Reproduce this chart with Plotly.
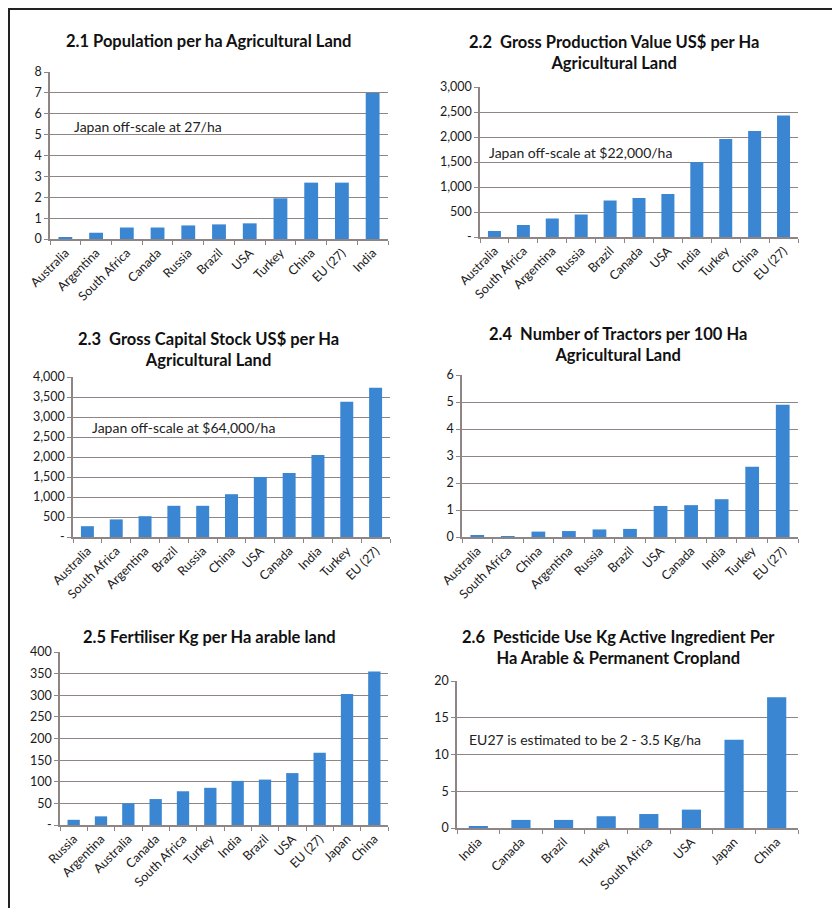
import plotly.graph_objects as go

W, H = 840, 908

# ---------------- data ----------------
p1_title = "2.1 Population per ha Agricultural Land"
p1_cats = ["Australia", "Argentina", "South Africa", "Canada", "Russia", "Brazil",
           "USA", "Turkey", "China", "EU (27)", "India"]
p1_vals = [0.05, 0.3, 0.55, 0.55, 0.65, 0.7, 0.75, 1.95, 2.7, 2.7, 7.0]
p1_ticks = [0, 1, 2, 3, 4, 5, 6, 7, 8]
p1_ticktext = ["0", "1", "2", "3", "4", "5", "6", "7", "8"]
p1_note = "Japan off-scale at 27/ha"

p2_title = "2.2  Gross Production Value US$ per Ha<br>Agricultural Land"
p2_cats = ["Australia", "South Africa", "Argentina", "Russia", "Brazil", "Canada",
           "USA", "India", "Turkey", "China", "EU (27)"]
p2_vals = [120, 240, 370, 450, 730, 780, 860, 1500, 1960, 2120, 2430]
p2_ticks = [0, 500, 1000, 1500, 2000, 2500, 3000]
p2_ticktext = ["-", "500", "1,000", "1,500", "2,000", "2,500", "3,000"]
p2_note = "Japan off-scale at $22,000/ha"

p3_title = "2.3  Gross Capital Stock US$ per Ha<br>Agricultural Land"
p3_cats = ["Australia", "South Africa", "Argentina", "Brazil", "Russia", "China",
           "USA", "Canada", "India", "Turkey", "EU (27)"]
p3_vals = [270, 440, 520, 780, 780, 1070, 1500, 1600, 2050, 3380, 3730]
p3_ticks = [0, 500, 1000, 1500, 2000, 2500, 3000, 3500, 4000]
p3_ticktext = ["-", "500", "1,000", "1,500", "2,000", "2,500", "3,000", "3,500", "4,000"]
p3_note = "Japan off-scale at $64,000/ha"

p4_title = "2.4  Number of Tractors per 100 Ha<br>Agricultural Land"
p4_cats = ["Australia", "South Africa", "China", "Argentina", "Russia", "Brazil",
           "USA", "Canada", "India", "Turkey", "EU (27)"]
p4_vals = [0.05, 0.03, 0.2, 0.22, 0.28, 0.3, 1.15, 1.18, 1.4, 2.6, 4.9]
p4_ticks = [0, 1, 2, 3, 4, 5, 6]
p4_ticktext = ["0", "1", "2", "3", "4", "5", "6"]

p5_title = "2.5 Fertiliser Kg per Ha arable land"
p5_cats = ["Russia", "Argentina", "Australia", "Canada", "South Africa", "Turkey",
           "India", "Brazil", "USA", "EU (27)", "Japan", "China"]
p5_vals = [12, 20, 50, 60, 78, 86, 102, 105, 120, 167, 303, 355]
p5_ticks = [0, 50, 100, 150, 200, 250, 300, 350, 400]
p5_ticktext = ["-", "50", "100", "150", "200", "250", "300", "350", "400"]

p6_title = "2.6  Pesticide Use Kg Active Ingredient Per<br>Ha Arable & Permanent Cropland"
p6_cats = ["India", "Canada", "Brazil", "Turkey", "South Africa", "USA", "Japan", "China"]
p6_vals = [0.2, 1.1, 1.1, 1.6, 1.9, 2.5, 12.0, 17.8]
p6_ticks = [0, 5, 10, 15, 20]
p6_ticktext = ["0", "5", "10", "15", "20"]
p6_note = "EU27 is estimated to be 2 - 3.5 Kg/ha"

# ---------------- layout geometry (page pixels) ----------------
panels = [
    dict(cats=p1_cats, vals=p1_vals, ticks=p1_ticks, tt=p1_ticktext, title=p1_title,
         box=(50, 388, 72, 239), tpos=(208, 41), note=p1_note, npos=(72, 126)),
    dict(cats=p2_cats, vals=p2_vals, ticks=p2_ticks, tt=p2_ticktext, title=p2_title,
         box=(480, 798, 87, 237), tpos=(614, 52), note=p2_note, npos=(487, 153)),
    dict(cats=p3_cats, vals=p3_vals, ticks=p3_ticks, tt=p3_ticktext, title=p3_title,
         box=(73, 390, 377, 537), tpos=(208, 349), note=p3_note, npos=(90, 427)),
    dict(cats=p4_cats, vals=p4_vals, ticks=p4_ticks, tt=p4_ticktext, title=p4_title,
         box=(462, 798, 375, 537), tpos=(618, 345), note=None, npos=None),
    dict(cats=p5_cats, vals=p5_vals, ticks=p5_ticks, tt=p5_ticktext, title=p5_title,
         box=(60, 388, 652, 825), tpos=(209, 637), note=None, npos=None),
    dict(cats=p6_cats, vals=p6_vals, ticks=p6_ticks, tt=p6_ticktext, title=p6_title,
         box=(457, 798, 681, 828), tpos=(618, 647), note=p6_note, npos=(467, 739)),
]

BAR = "#3a86d2"
GRID = "#8f8585"
FONT = "Lato"
TXT = "#1a1a1a"
OFF = 8  # page body margin

fig = go.Figure()
layout = dict(
    width=W, height=H, margin=dict(l=0, r=0, t=0, b=0, autoexpand=False),
    paper_bgcolor="white", plot_bgcolor="white", showlegend=False,
    bargap=0.55, font=dict(family=FONT, color=TXT),
    annotations=[], shapes=[],
)

def px(x):
    return (x - OFF) / W

def py(y):
    return 1 - (y - OFF) / H

for i, p in enumerate(panels, start=1):
    sfx = "" if i == 1 else str(i)
    xa, ya = "x" + sfx, "y" + sfx
    fig.add_trace(go.Bar(x=p["cats"], y=p["vals"], marker=dict(color=BAR, line=dict(width=0)),
                         xaxis=xa, yaxis=ya, hoverinfo="x+y"))
    x0, x1, y0, y1 = p["box"]
    layout["xaxis" + sfx] = dict(
        domain=[px(x0), px(x1)], anchor=ya, type="category", automargin=False,
        showline=True, linecolor=GRID, linewidth=1.5,
        ticks="outside", tickson="boundaries", ticklen=4, tickcolor=GRID,
        tickangle=-45, tickfont=dict(size=12.5, color=TXT, family=FONT),
        showgrid=False, fixedrange=True,
    )
    layout["yaxis" + sfx] = dict(
        domain=[py(y1), py(y0)], anchor=xa, automargin=False,
        range=[p["ticks"][0], p["ticks"][-1]],
        tickvals=p["ticks"], ticktext=p["tt"],
        showline=True, linecolor=GRID, linewidth=1.5,
        ticks="outside", ticklen=4, tickcolor=GRID,
        showgrid=True, gridcolor=GRID, gridwidth=1.3, zeroline=False,
        tickfont=dict(size=12.5, color=TXT, family=FONT), fixedrange=True,
    )
    tx, ty = p["tpos"]
    layout["annotations"].append(dict(
        text="<b>" + p["title"] + "</b>", x=px(tx), y=py(ty), xref="paper", yref="paper",
        xanchor="center", yanchor="middle", showarrow=False, align="center",
        font=dict(size=16.5, family=FONT, color="#111"),
    ))
    if p["note"]:
        nx, ny = p["npos"]
        layout["annotations"].append(dict(
            text=p["note"], x=px(nx), y=py(ny), xref="paper", yref="paper",
            xanchor="left", yanchor="middle", showarrow=False,
            font=dict(size=14, family=FONT, color="#222"),
        ))

# outer frame
layout["shapes"].append(dict(type="rect", xref="paper", yref="paper",
                             x0=px(9), x1=px(833), y0=py(916), y1=py(9),
                             line=dict(color="#222", width=2)))
layout["shapes"].append(dict(type="line", xref="paper", yref="paper",
                             x0=px(836), x1=px(836), y0=py(912), y1=py(12),
                             line=dict(color="#c4c4c4", width=2)))

fig.update_layout(**layout)
fig.write_html("out.html")
